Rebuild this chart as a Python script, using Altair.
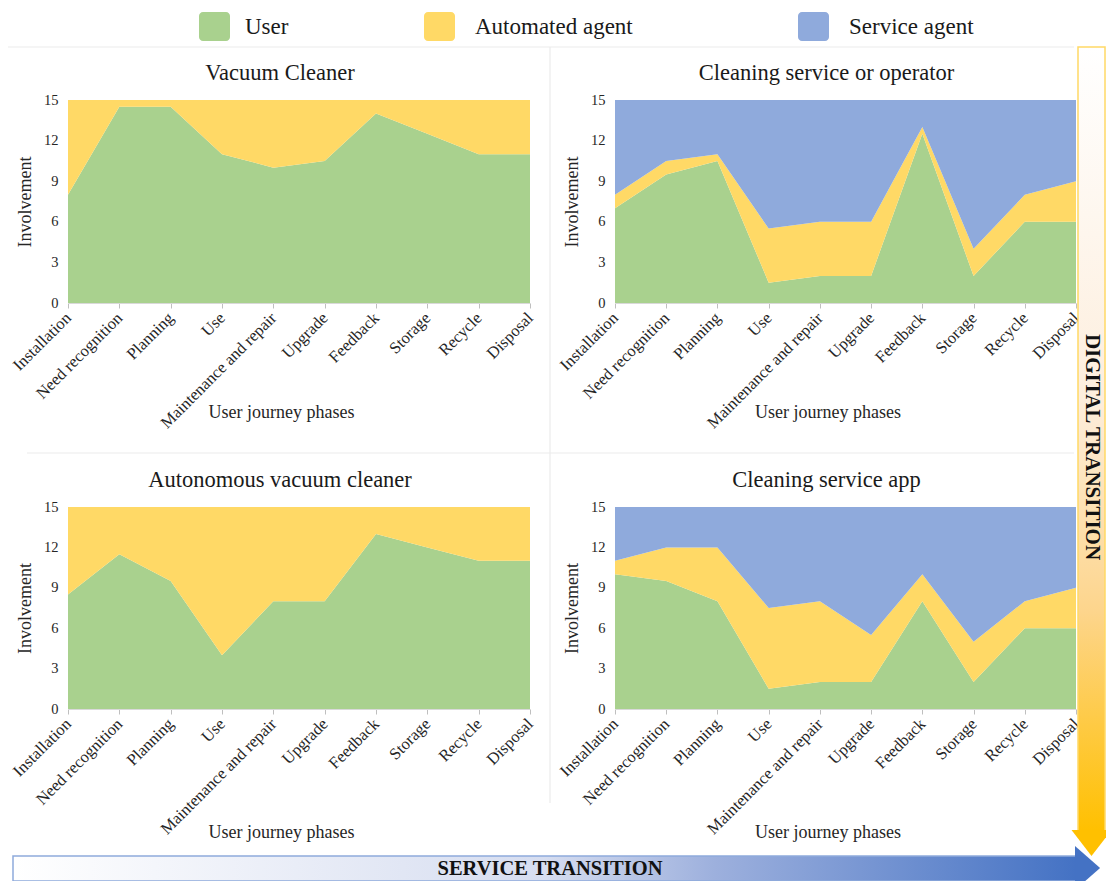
import altair as alt
import pandas as pd

FONT = "Liberation Serif"

phases = ["Installation", "Need recognition", "Planning", "Use", "Maintenance and repair",
          "Upgrade", "Feedback", "Storage", "Recycle", "Disposal"]
series = ["User", "Automated agent", "Service agent"]
colors = ["#A9D18E", "#FFD966", "#8FAADC"]
y_ticks = [0, 3, 6, 9, 12, 15]

titles = ["Vacuum Cleaner", "Cleaning service or operator",
          "Autonomous vacuum cleaner", "Cleaning service app"]

# Vacuum Cleaner
vc_user = [8, 14.5, 14.5, 11, 10, 10.5, 14, 12.5, 11, 11]
vc_auto = [7, 0.5, 0.5, 4, 5, 4.5, 1, 2.5, 4, 4]
# Cleaning service or operator
cs_user = [7, 9.5, 10.5, 1.5, 2, 2, 12.5, 2, 6, 6]
cs_auto = [1, 1, 0.5, 4, 4, 4, 0.5, 2, 2, 3]
cs_service = [7, 4.5, 4, 9.5, 9, 9, 2, 11, 7, 6]
# Autonomous vacuum cleaner
av_user = [8.5, 11.5, 9.5, 4, 8, 8, 13, 12, 11, 11]
av_auto = [6.5, 3.5, 5.5, 11, 7, 7, 2, 3, 4, 4]
# Cleaning service app
app_user = [10, 9.5, 8, 1.5, 2, 2, 8, 2, 6, 6]
app_auto = [1, 2.5, 4, 6, 6, 3.5, 2, 3, 2, 3]
app_service = [4, 3, 3, 7.5, 7, 9.5, 5, 10, 7, 6]

panel_values = [
    {"User": vc_user, "Automated agent": vc_auto},
    {"User": cs_user, "Automated agent": cs_auto, "Service agent": cs_service},
    {"User": av_user, "Automated agent": av_auto},
    {"User": app_user, "Automated agent": app_auto, "Service agent": app_service},
]

W, H = 1098, 873
# plot boxes in chart pixels: x0, x1, ytop, ybottom, x-title offset
boxes = [
    (60, 522, 92, 295, 109),
    (607, 1068, 92, 295, 109),
    (60, 522, 499, 701, 123),
    (607, 1068, 499, 701, 123),
]

dummy = pd.DataFrame({"d": [0]})
layers = []

# separators
for (xa, xb, ya, yb) in [(0, 1066, 39, 39), (542, 542, 39, 795), (19, 1066, 445, 445)]:
    layers.append(alt.Chart(dummy).mark_rule(color="#EBEBEB", strokeWidth=1.2).encode(
        x=alt.value(xa), x2=alt.value(xb), y=alt.value(ya), y2=alt.value(yb)))

for title, values, box in zip(titles, panel_values, boxes):
    x0, x1, yt, yb, tY = box
    cx = (x0 + x1) / 2 - 18
    rows = []
    for k, s in enumerate(series):
        if s in values:
            for p, v in zip(phases, values[s]):
                rows.append({"phase": p, "series": s, "value": v, "k": k})
    df = pd.DataFrame(rows)
    area = alt.Chart(df).mark_area(opacity=1, interpolate="linear").encode(
        x=alt.X("phase:N", sort=phases,
                scale=alt.Scale(type="point", range=[x0, x1], padding=0),
                axis=alt.Axis(orient="bottom", offset=yb - H, title="User journey phases",
                              titleX=cx, titleY=tY, titleBaseline="middle",
                              labelAngle=-45, labelAlign="right", labelBaseline="middle",
                              labelPadding=7, tickSize=5, tickColor="#BFBFBF",
                              domainColor="#D9D9D9", labelFontSize=16.5)),
        y=alt.Y("value:Q", stack="zero",
                scale=alt.Scale(domain=[0, 15], range=[yb, yt], nice=False, zero=True),
                axis=alt.Axis(orient="left", offset=-x0, values=y_ticks, title="Involvement",
                              titleX=-43, titleBaseline="middle", ticks=False, tickSize=0,
                              domain=False, labelPadding=10, labelFontSize=14.5)),
        color=alt.Color("series:N", scale=alt.Scale(domain=series, range=colors), legend=None),
        order=alt.Order("k:Q", sort="ascending"),
    )
    layers.append(area)
    layers.append(alt.Chart(dummy).mark_text(
        text=title, font=FONT, fontSize=22.5, color="#1a1a1a", align="center", baseline="middle"
    ).encode(x=alt.value(cx - 1), y=alt.value(yt - 27)))

# legend
legend_pos = [(191, 237), (416, 467), (790, 841)]
for s, c, (sx, tx) in zip(series, colors, legend_pos):
    layers.append(alt.Chart(dummy).mark_rect(color=c, cornerRadius=4).encode(
        x=alt.value(sx), x2=alt.value(sx + 31), y=alt.value(4), y2=alt.value(33)))
    layers.append(alt.Chart(dummy).mark_text(
        text=s, font=FONT, fontSize=23, color="#1a1a1a", align="left", baseline="middle"
    ).encode(x=alt.value(tx), y=alt.value(19)))

# right arrow: DIGITAL TRANSITION
orange_grad = alt.LinearGradient(
    gradient="linear", x1=0, y1=0, x2=0, y2=1,
    stops=[alt.GradientStop(color="#FFFFFF", offset=0),
           alt.GradientStop(color="#FDEEDD", offset=0.45),
           alt.GradientStop(color="#FDD58C", offset=0.72),
           alt.GradientStop(color="#FFC000", offset=1)])
layers.append(alt.Chart(dummy).mark_rect(fill=orange_grad, stroke="#FFD966", strokeWidth=1.5).encode(
    x=alt.value(1070), x2=alt.value(1097), y=alt.value(39), y2=alt.value(823)))
layers.append(alt.Chart(dummy).mark_point(
    shape="M -1 0 L 1 0 L 0 1.3 Z", filled=True, opacity=1, color="#FFC000", size=1600
).encode(x=alt.value(1083.5), y=alt.value(822)))
layers.append(alt.Chart(dummy).mark_text(
    text="DIGITAL TRANSITION", font=FONT, fontSize=21, fontWeight="bold", color="#111111",
    angle=90, align="center", baseline="middle"
).encode(x=alt.value(1084), y=alt.value(439)))

# bottom arrow: SERVICE TRANSITION
blue_grad = alt.LinearGradient(
    gradient="linear", x1=0, y1=0, x2=1, y2=0,
    stops=[alt.GradientStop(color="#FFFFFF", offset=0),
           alt.GradientStop(color="#D6DDF0", offset=0.5),
           alt.GradientStop(color="#9DB0DD", offset=0.66),
           alt.GradientStop(color="#4472C4", offset=1)])
layers.append(alt.Chart(dummy).mark_rect(fill=blue_grad, stroke="#8FAADC", strokeWidth=1.5).encode(
    x=alt.value(5), x2=alt.value(1068), y=alt.value(848), y2=alt.value(873)))
layers.append(alt.Chart(dummy).mark_point(
    shape="M 0 -1 L 1.14 0 L 0 1 Z", filled=True, opacity=1, color="#4472C4", size=1936
).encode(x=alt.value(1067), y=alt.value(860)))
layers.append(alt.Chart(dummy).mark_text(
    text="SERVICE TRANSITION", font=FONT, fontSize=20.5, fontWeight="bold", color="#111111",
    align="center", baseline="middle"
).encode(x=alt.value(542), y=alt.value(861)))

chart = alt.layer(*layers).resolve_scale(
    x="independent", y="independent"
).properties(
    width=W, height=H, padding=0,
    autosize=alt.AutoSizeParams(type="none"), background="white"
).configure_view(stroke=None).configure_axis(
    labelFont=FONT, titleFont=FONT, titleFontSize=18, titleFontWeight="normal",
    labelColor="#262626", titleColor="#262626", grid=False
)

chart.save("out.html", embed_options={"renderer": "svg", "actions": False})
